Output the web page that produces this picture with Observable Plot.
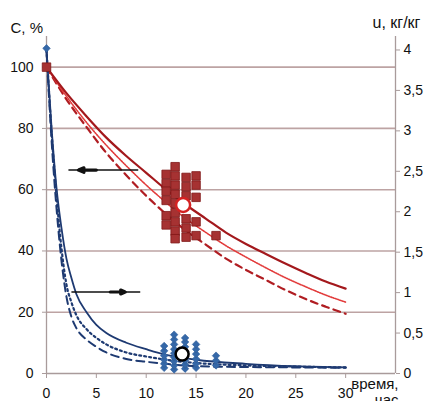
<!DOCTYPE html>
<html><head><meta charset="utf-8">
<script src="https://cdn.jsdelivr.net/npm/d3@7"></script>
<script src="https://cdn.jsdelivr.net/npm/@observablehq/plot@0.6"></script>
<style>html,body{margin:0;padding:0;background:#fff}#chart svg{display:block}</style>
</head><body><div id="chart"></div>
<script>
// ---- data ----
const xTicks = [0, 5, 10, 15, 20, 25, 30];
const leftTicks = [0, 20, 40, 60, 80, 100];
const gridTicks = [20, 40, 60, 80, 100];
const rightTicks = [0, 0.5, 1, 1.5, 2, 2.5, 3, 3.5, 4];
const rightLabels = ["0", "0,5", "1", "1,5", "2", "2,5", "3", "3,5", "4"];

// C, % (left axis)
const timeRed = [0, 2, 4, 6, 8, 10, 12, 14, 16, 18, 20, 22, 24, 26, 28, 30];
const redSolid = [100, 91.5, 84, 77, 71, 65.5, 60, 55, 50.5, 46, 42.3, 39, 35.8, 32.8, 30, 27.7];
const redDotted = [100, 90.5, 82, 74.5, 67.8, 61.5, 55.8, 50.5, 46, 41.7, 38, 34.5, 31.2, 28.3, 25.6, 23.3];
const redDashed = [100, 89.5, 80.5, 72, 64.7, 58, 52, 46.6, 42, 37.5, 33.8, 30.5, 27.2, 24.3, 21.8, 19.5];

// u, кг/кг (right axis)
const timeBlue = [0, 0.5, 1, 1.5, 2, 2.5, 3, 4, 5, 6, 8, 10, 12, 15, 20, 25, 30];
const blueSolid = [4.0, 3.05, 2.3, 1.8, 1.42, 1.18, 0.98, 0.76, 0.6, 0.5, 0.38, 0.3, 0.23, 0.17, 0.12, 0.09, 0.075];
const blueDotted = [4.0, 3.0, 2.2, 1.55, 1.1, 0.88, 0.72, 0.55, 0.44, 0.36, 0.26, 0.21, 0.17, 0.13, 0.1, 0.085, 0.075];
const blueDashed = [4.0, 2.9, 2.05, 1.4, 0.95, 0.7, 0.56, 0.42, 0.33, 0.26, 0.18, 0.145, 0.12, 0.09, 0.08, 0.075, 0.07];

// experimental points: red squares (C, %)
const sqT = [0, 12, 12, 12, 12, 12, 12, 12.9, 12.9, 12.9, 12.9, 12.9, 12.9, 12.9, 12.9, 12.9, 14, 14, 14, 14, 14, 14, 15, 15, 15, 15, 15, 17];
const sqC = [100, 65, 62, 59.5, 56.5, 51.5, 48.5, 67.5, 64.5, 61.5, 58.5, 55.5, 52.5, 49.5, 46.5, 44, 64, 61, 58, 50.5, 47.5, 44.5, 64.5, 61.5, 57.5, 49.5, 45, 45];
// blue diamonds (u, кг/кг)
const diaT = [0, 11.8, 11.8, 11.8, 11.8, 11.8, 11.8, 12.8, 12.8, 12.8, 12.8, 12.8, 12.8, 12.8, 12.8, 12.8, 13.9, 13.9, 13.9, 13.9, 13.9, 13.9, 13.9, 13.9, 15, 15, 15, 15, 15, 15, 17, 17, 17];
const diaU = [4.02, 0.07, 0.12, 0.17, 0.22, 0.28, 0.34, 0.05, 0.1, 0.15, 0.2, 0.25, 0.3, 0.36, 0.42, 0.48, 0.06, 0.11, 0.16, 0.21, 0.27, 0.33, 0.39, 0.44, 0.07, 0.12, 0.18, 0.24, 0.3, 0.36, 0.1, 0.16, 0.22];
// mean points
const meanRed = [{t: 13.7, c: 55}];
const meanBlue = [{t: 13.6, u: 0.24}];
// axis-pointer arrows (left axis value for y)
const arrowFrom = [9.2, 2.5];
const arrowTo = [2.2, 9.4];
const arrowY = [66.4, 26.6];
const headFrom = [5.0, 6.4];
const headTo = [3.2, 7.9];

// ---- build ----
const F = 26.4; // one unit of u on the right axis in left-axis units
const redTable = timeRed.map((t, i) => ({t, s: redSolid[i], o: redDotted[i], d: redDashed[i]}));
const blueTable = timeBlue.map((t, i) => ({t, s: blueSolid[i] * F, o: blueDotted[i] * F, d: blueDashed[i] * F}));
const squares = sqT.map((t, i) => ({t, c: sqC[i]}));
const diamonds = diaT.map((t, i) => ({t, c: diaU[i] * F}));
const arrows = arrowY.map((y, i) => ({x1: arrowFrom[i], x2: arrowTo[i], y}));
const heads = arrowY.map((y, i) => ({x1: headFrom[i], x2: headTo[i], y}));

const gridColor = "#bda3a3";
const axisColor = "#a99b9b";
const navy = "#1e3a72";

const chart = Plot.plot({
  width: 431, height: 401,
  marginLeft: 46, marginRight: 36, marginTop: 36, marginBottom: 28,
  x: {domain: [0, 35]},
  y: {domain: [0, 110]},
  style: {fontFamily: "'Liberation Sans', Arial, sans-serif", fontSize: "14px", color: "#111", background: "#fff"},
  marks: [
    Plot.gridY(gridTicks, {stroke: gridColor, strokeOpacity: 1, strokeWidth: 1.6}),
    Plot.ruleX([0], {stroke: axisColor, strokeWidth: 1.3}),
    Plot.ruleX([35], {stroke: axisColor, strokeWidth: 1.3}),
    Plot.ruleY([0], {stroke: axisColor, strokeWidth: 1.3}),
    Plot.axisX(xTicks, {tickSize: 5, tickPadding: 10, stroke: axisColor, fill: "#111", label: null, fontSize: 14}),
    Plot.axisY(leftTicks, {anchor: "left", tickSize: 4, tickPadding: 9, stroke: axisColor, fill: "#111", label: null, fontSize: 14}),
    Plot.axisY(rightTicks.map(v => v * F), {anchor: "right", tickSize: 4, tickPadding: 4, stroke: axisColor, fill: "#111", label: null, fontSize: 14,
      tickFormat: d => rightLabels[Math.round(d / F * 2)]}),
    // red curves (left axis)
    Plot.line(redTable, {x: "t", y: "d", stroke: "#b01d22", strokeWidth: 2.2, strokeDasharray: "7,5", curve: "monotone-x"}),
    Plot.line(redTable, {x: "t", y: "o", stroke: "#e23b3b", strokeWidth: 1.6, strokeDasharray: "1.2,1.2", curve: "monotone-x"}),
    Plot.line(redTable, {x: "t", y: "s", stroke: "#a3181c", strokeWidth: 2.2, curve: "monotone-x"}),
    // blue curves (right axis)
    Plot.line(blueTable, {x: "t", y: "d", stroke: navy, strokeWidth: 2, strokeDasharray: "8,5", curve: "monotone-x"}),
    Plot.line(blueTable, {x: "t", y: "o", stroke: navy, strokeWidth: 2.2, strokeDasharray: "2,3", curve: "monotone-x"}),
    Plot.line(blueTable, {x: "t", y: "s", stroke: navy, strokeWidth: 1.8, curve: "monotone-x"}),
    // experimental points
    Plot.dot(squares, {x: "t", y: "c", symbol: "square", r: 4.8, fill: "#a63232", stroke: "#7f1616", strokeWidth: 0.8}),
    Plot.dot(diamonds, {x: "t", y: "c", symbol: "diamond2", r: 3.4, fill: "#3568a8", stroke: "#2e5d99", strokeWidth: 0.6}),
    Plot.dot(meanRed, {x: "t", y: "c", r: 7, fill: "#fff", stroke: "#d42222", strokeWidth: 2.5}),
    Plot.dot(meanBlue, {x: "t", y: d => d.u * F, r: 6.5, fill: "#fff", stroke: "#000", strokeWidth: 2.5}),
    // arrows
    Plot.link(arrows, {x1: "x1", x2: "x2", y1: "y", y2: "y", stroke: "#111", strokeWidth: 1.5}),
    Plot.arrow(heads, {x1: "x1", x2: "x2", y1: "y", y2: "y", stroke: "#111", strokeWidth: 3.2, headLength: 10, headAngle: 45}),
    // titles
    Plot.text(["С, %"], {frameAnchor: "top-left", dx: -36, dy: -4, textAnchor: "start", lineAnchor: "bottom", fontSize: 15, fill: "#111"}),
    Plot.text(["u, кг/кг"], {frameAnchor: "top-right", dx: -23, dy: -9, textAnchor: "start", lineAnchor: "bottom", fontSize: 16, fill: "#111"}),
    Plot.text(["время,\nчас"], {frameAnchor: "bottom-right", dx: 3, dy: 4, textAnchor: "end", lineAnchor: "top", lineHeight: 1.08, fontSize: 15, fill: "#111"})
  ]
});
document.getElementById("chart").appendChild(chart);
</script>
</body></html>
